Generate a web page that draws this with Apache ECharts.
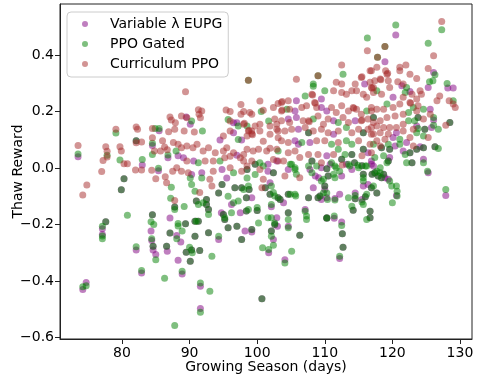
<!DOCTYPE html>
<html><head><meta charset="utf-8">
<script src="https://cdn.jsdelivr.net/npm/echarts@6/dist/echarts.min.js"></script>
<style>html,body{margin:0;padding:0;background:#fff}#c{width:479px;height:379px}</style>
</head><body><div id="c"></div>
<script>
// Tick labels
const xTicks = [80, 90, 100, 110, 120, 130];
const yTicks = [-0.6, -0.4, -0.2, 0, 0.2, 0.4];
const seriesNames = ['Variable λ EUPG', 'PPO Gated', 'Curriculum PPO'];

// [growing season (days), thaw reward]
const curriculumOnly = [
[73.5,0.08],[74.8,-0.06],[74.2,-0.095],[77.6,0.075],[77.8,0.059],[77.2,0.027],[77.8,0.039],[77,-0.012],[79.1,0.137],[79.7,0.075],[79.9,0.06],[80.3,0.015],[80.8,0.015],[82.1,0.145],[82.3,0.137],[82.1,0.089],[82.9,0.092],[82,-0.007],[82.9,-0.007],[84.5,0.14],[86.9,0.128],[84.5,0.107],[84.8,0.06],[85.7,0.06],[84.4,-0.008],[85,-0.038],[86.4,-0.031],[86.6,-0.052],[86,0.096],[86.3,0.074],[86.7,0.065],[87.1,0.18],[87.3,0.17],[87.9,0.16],[87.8,0.137],[87.6,0.09],[88.3,0.084],[88.1,0.001],[87.5,-0.011],[87.8,-0.115],
[89.4,0.27],[97.6,0.225],[100.4,0.237],[95.4,0.205],[96,0.2],[97.6,0.19],[98,0.2],[98.9,0.196],[99.2,0.19],[100.9,0.204],[102.4,0.214],[103.1,0.228],[91.3,0.206],[91.8,0.202],
[88.8,0.184],[89.6,0.178],[91.4,0.19],[91.6,0.178],[96,0.166],[98,0.155],[98.1,0.158],[98.7,0.131],[98.8,0.134],[99.2,0.131],[99.7,0.149],[100.4,0.155],[101.9,0.149],[102.9,0.155],[99.2,0.121],[99.3,0.118],
[89.2,0.131],[90.7,0.127],[95,0.113],[96,0.131],[98.5,0.113],[100.4,0.131],[100.9,0.095],[101.9,0.119],[102.9,0.137],[103.1,0.107],
[88.8,0.072],[89.6,0.078],[90.5,0.072],[91.1,0.084],[92,0.06],[92.8,0.072],[93.8,0.054],[95,0.06],[95.5,0.072],[96.5,0.054],[98,0.048],[98.5,0.066],[99.4,0.06],[100.2,0.066],[101.4,0.06],[101.9,0.07],[102.9,0.066],
[89.6,0.025],[92.3,0.025],[93.5,0.025],[95.2,0.036],[96,0.042],[97.5,0.036],[98,0.025],[98.5,0.007],[99.2,0.025],[102.4,0.03],[103.1,0.025],
[88.8,-0.011],[89.8,-0.017],[93.5,-0.011],[96,0.001],[97.7,-0.011],[100.4,-0.005],[93,-0.04],[100.9,-0.04],
[91.5,-0.087],[93.3,-0.064],[100.7,-0.07],[106.3,-0.034],[104.1,-0.028],[112.6,0.011],
[116.3,0.415],[112.5,0.364],[105.8,0.314],[115.4,0.32],[115.5,0.323],[116.9,0.344],[111.7,0.303],[112.5,0.297],[114.5,0.297],[116.7,0.303],[117.2,0.285],
[103.6,0.232],[103.7,0.235],[104.6,0.238],[108.1,0.261],[108.2,0.258],[108.5,0.232],[108.6,0.229],[111.3,0.273],[112.5,0.267],[113.2,0.261],[114,0.273],[114.7,0.273],[115.7,0.261],[116.2,0.25],[117.2,0.267],
[103.6,0.202],[103.7,0.205],[104.8,0.208],[106.6,0.214],[107.3,0.22],[108.8,0.214],[111,0.214],[111.7,0.196],[112.5,0.22],[113.5,0.202],[114.2,0.214],[114.3,0.211],[114.7,0.208],[115.4,0.19],[116.9,0.214],
[102.6,0.173],[103.6,0.167],[104.8,0.161],[106.8,0.167],[107.6,0.167],[107.7,0.164],[109,0.184],[109.8,0.155],[110.5,0.173],[112.7,0.179],[113.5,0.161],[115.4,0.167],[115.5,0.17],[116.4,0.173],[117.2,0.161],
[103.1,0.131],[104.1,0.131],[105.1,0.137],[107.1,0.143],[108.3,0.131],[109.5,0.137],[110.5,0.125],[112,0.131],[114,0.125],[115,0.137],[116.4,0.137],[116.9,0.119],
[103.6,0.096],[104.6,0.09],[108.8,0.096],[110,0.096],[112,0.09],[115,0.096],[116.7,0.084],
[104.6,0.054],[105.6,0.06],[106.3,0.037],[107.6,0.048],[109,0.048],[111.3,0.048],[115.5,0.043],[103.9,0.025],[109.5,0.019],
[127.3,0.518],[126.1,0.397],[121.1,0.356],[122,0.364],[121.1,0.344],[125.3,0.352],[117.7,0.356],[119,0.344],[119.2,0.332],[119.3,0.335],[120.8,0.305],[122.6,0.332],[123.6,0.317],[121.6,0.297],[124.1,0.273],[127,0.255],[126.6,0.238],[128.4,0.238],[129,0.226],[129.3,0.214],[127.9,0.151],
[116.7,0.344],[117.4,0.309],[118.2,0.315],[118.3,0.312],[118.4,0.261],[119.4,0.309],[119.6,0.285],[116.9,0.285],[117,0.282],[122.6,0.232],[122.7,0.229],[121.6,0.25],[122.9,0.261],[123.6,0.244],[124.3,0.261],[123.8,0.22],[121.1,0.226],[120.1,0.214],[118.7,0.208],[117.7,0.208],[116.9,0.202],[118.2,0.167],[119.2,0.179],[120.4,0.184],[121.6,0.19],[123.6,0.202],[125.6,0.19],[124.6,0.173],[121.6,0.155],[120.6,0.143],[119.6,0.143],[118.7,0.143],[117.7,0.149],[116.9,0.143],[117.2,0.12],[118.2,0.125],[119.4,0.12],[121.6,0.131],[123.1,0.137],[125.3,0.108],[122.6,0.108],[118.9,0.102],[117.7,0.096],[118.2,0.078],[123.1,0.078],[116.9,0.054]
];

const gatedOnly = [
[73.5,0.05],[74.2,-0.42],[74.7,-0.416],[77.1,-0.206],[77.1,-0.24],[77.1,-0.25],[77.8,0.045],[79.1,0.124],[79.7,0.028],[80.8,-0.167],[82.1,-0.278],[82.9,-0.362],[83,0.03],[84.9,0.14],[85.5,0.14],[84.5,0.088],[84.5,0.048],[85.4,-0.001],[84.3,-0.19],[84.7,-0.2],[84.4,-0.25],[85,-0.324],[86.3,-0.39],[86.8,0.046],[87.3,-0.068],[87.2,-0.107],[87.8,-0.147],[89.2,-0.136],[88.3,-0.196],[88.3,-0.205],[88.1,-0.25],[88.9,-0.223],[88.9,-0.365],[87.8,-0.557],[90,-0.28],[88,0.06],
[100.6,0.2],[90.3,0.166],[95.7,0.172],[97.2,0.149],[98.5,0.149],[101.7,0.166],[91.9,0.131],[97.2,0.101],[91.3,0.019],[94.5,0.025],[100.4,0.019],[100.9,0.007],[96.5,-0.017],[99.7,-0.023],[90.1,-0.035],[91.8,-0.035],[98.5,-0.035],
[90.3,-0.058],[90.8,-0.082],[102.1,-0.064],[91.3,-0.129],[92,-0.123],[92.8,-0.164],[95.7,-0.1],[96.5,-0.123],[97.2,-0.117],[98,-0.076],[98.7,-0.064],[100,-0.14],[102.1,-0.129],[102.4,-0.087],[102.6,-0.099],[104.9,-0.093],[105.6,-0.093],[105.7,-0.099],[107.1,-0.153],[107.3,-0.17],[95.2,-0.176],[96.2,-0.158],[98.7,-0.147],[91,-0.188],[94.3,-0.241],[100.2,-0.194],[101.6,-0.176],[102.1,-0.176],[102.6,-0.194],[102.1,-0.241],[102.4,-0.273],[101.7,-0.288],[100.8,-0.282],[104.6,-0.182],[104.6,-0.211],[105.1,-0.294],[107.3,-0.182],[90.4,-0.3],[93.3,-0.312],[104.1,-0.336],[91.6,-0.407],[93,-0.436],[91.6,-0.51],[104.9,0.013],[105.6,-0.005],[105.8,-0.022],[107.6,0.007],[108.1,-0.017],[109.5,-0.046],
[112.7,0.332],[108.3,0.297],[108.3,0.289],[107.1,0.255],[110,0.273],[104.4,0.208],[116.2,0.202],[108.3,0.173],[112,0.161],[113.2,0.143],[106.6,0.09],[111,0.084],[113.2,0.096],[114,0.084],[103.1,0.06],[112,0.066],[113,0.048],[105.1,0.013],[108.8,0.007],[113.5,0.013],[116,0.007],[105.6,0.001],[111.7,0.001],[116.3,0.46],
[120.5,0.506],[127.3,0.489],[125.3,0.441],[126.3,0.33],[122.1,0.285],[125.5,0.305],[126,0.309],[128.1,0.299],[129,0.238],[117.7,0.273],[121.9,0.267],[123.1,0.214],[119.2,0.226],[122.4,0.196],[124.6,0.208],[126.1,0.179],[123.3,0.167],[122.4,0.167],[123.8,0.14],[126.1,0.151],[126.8,0.137],[124.6,0.113],[123.6,0.125],[121.1,0.102],[117.2,0.084],[119.4,0.084],[121.1,0.084],[126.8,0.069],[117.4,0.037],[118.7,0.043],[121.9,0.048],[124.6,0.019],[118.2,0.001],
[111,0.019],[111.5,0.007],[109.8,-0.04],[111.3,-0.022],[111.5,-0.034],[112.2,-0.011],[113.7,0.007],[114.9,0.01],[115,0.001],[115.7,-0.034],[115.7,-0.046],[116.2,0.007],[117.7,-0.011],[118.2,-0.017],[119.2,0.019],[119.6,-0.046],[119.9,-0.064],[120.7,-0.082],[120.7,-0.099],[120.6,-0.064],[122.1,0.019],[125.2,-0.011],[117.2,-0.064],[116.2,-0.093],[109.8,-0.088],[110.3,-0.088],[110.4,-0.111],[111.5,-0.113],[113.5,-0.105],[114.5,-0.097],[114,-0.135],[115.5,-0.12],[115.7,-0.129],[116.2,-0.182],[120,-0.123],[127.9,-0.076],[111.4,-0.17],[112.5,-0.203],[112.2,-0.312]
];

const eupgOnly = [
[73.5,0.04],[74.2,-0.43],[74.7,-0.405],[77.1,-0.215],[77.1,-0.235],[82.1,-0.29],[82.9,-0.371],[83,0.011],[85.5,0.132],[84.5,0.08],[85.4,-0.01],[84.3,-0.223],[84.4,-0.256],[84.6,-0.29],[85,-0.306],[86.7,-0.294],[86.8,0.036],[87.1,-0.177],[88.1,-0.239],[88.7,-0.262],[88.3,-0.326],[88.9,-0.375],[88.3,0.043],[89.5,0.18],
[90.1,0.155],[96.5,0.16],[97,0.16],[94.5,0.099],[96.5,0.125],[97.7,0.099],[97,0.045],[89.1,0.036],[90.6,0.025],[101.6,0.013],[90.3,-0.023],[91.8,-0.017],[94.8,-0.005],[101.6,-0.011],[95.5,-0.035],
[101.9,-0.052],[108.3,-0.07],[96.2,-0.129],[99.2,-0.105],[102.1,-0.137],[103.9,-0.123],[107.1,-0.147],[110.3,-0.105],[94.7,-0.158],[97.5,-0.158],[94.3,-0.253],[98.2,-0.223],[99.2,-0.226],[103,-0.206],[102.9,-0.176],[102.4,-0.253],[101.7,-0.3],[104.6,-0.206],[104.1,-0.324],[91.6,-0.418],[91.6,-0.497],[104.6,-0.005],[108.6,-0.028],[109.1,-0.034],
[115.9,0.297],[105.8,0.238],[109.5,0.244],[105.6,0.202],[109.5,0.214],[110.3,0.202],[104.6,0.173],[105.8,0.179],[111.3,0.167],[114.5,0.167],[106.1,0.137],[111.3,0.119],[105.6,0.096],[106.1,0.084],[107.8,0.09],[110.3,0.043],[116.4,0.054],[102.9,0.025],[110.8,0.013],[116.9,0.025],[107.8,-0.005],[114,-0.005],
[120.5,0.47],[118.9,0.376],[126.1,0.338],[122.6,0.271],[125.3,0.285],[128.2,0.283],[129,0.283],[120.1,0.25],[121.4,0.291],[125.6,0.208],[126.1,0.17],[120.6,0.125],[123.6,0.149],[125.8,0.143],[120.1,0.108],[120.4,0.078],[122.1,0.09],[124.1,0.075],[121.6,0.06],[119.6,0.037],[124.6,0.031],[116.9,0.013],
[109.5,0.001],[112.5,-0.028],[113.2,0.013],[117.2,0.007],[118.9,-0.034],[119.4,-0.04],[125.3,-0.017],[116.4,-0.058],[115.7,-0.064],[110,-0.076],[109.5,-0.111],[111.5,-0.108],[112.2,-0.093],[114.5,-0.088],[115.5,-0.111],[120.6,-0.097],[127.9,-0.097],[111.4,-0.178],[112.5,-0.191],[112.2,-0.32]
];

// seasons where Variable λ EUPG and PPO Gated reached the same reward
const eupgGatedSame = [
[80.3,-0.038],[79.9,-0.077],[82.1,0.096],[84.5,-0.165],[84.6,-0.277],[86.6,-0.277],[87.8,-0.138],[87.1,-0.23],[89.4,-0.197],[89.5,-0.298],[90.3,-0.29],[90.1,-0.33],[77.6,-0.19],
[99.7,0.013],[98.5,-0.005],[102.4,-0.017],[101.2,-0.07],[110,-0.064],[91,-0.117],[92.5,-0.111],[92.5,-0.129],[92.8,-0.147],[94.3,-0.088],[94.8,-0.058],[96.7,-0.07],[97.7,-0.07],[98.4,-0.105],[98.8,-0.076],[100,-0.15],[101.9,-0.093],[103.1,-0.105],[103.4,-0.111],[104.6,-0.093],[107.6,-0.105],[109,-0.105],[110.3,-0.176],[95,-0.164],[95.2,-0.182],[98.4,-0.152],[90.8,-0.188],[91.3,-0.188],[90.8,-0.241],[92.8,-0.229],[95.7,-0.211],[97,-0.206],[97.7,-0.253],[99.2,-0.217],[102.1,-0.223],[102.6,-0.2],[104.6,-0.158],[106.3,-0.238],[91.5,-0.292],[100.7,-0.462],
[107.6,0.125],[114,0.048],[108.1,0.025],[112.5,0.031],[114.4,0.019],[110.3,-0.003],[115.7,0.066],[115.7,0.125],
[124.6,0.072],[126.3,0.075],[118.4,0.072],[119.6,0.066],[122.6,0.054],[123.6,0.066],[122.9,0.019],[119.4,0.025],[128.5,0.161],[117.2,0.179],[123.8,0.179],[124.8,0.137],
[110.5,-0.028],[115.5,0.008],[115.7,-0.022],[117,-0.022],[117.4,-0.017],[117.9,-0.028],[118.4,-0.034],[118.7,-0.022],[116.9,-0.07],[117.7,-0.088],[109.3,-0.099],[114.5,-0.109],[114.2,-0.149],[116,-0.102],[116.7,-0.153],[116.7,-0.176],[110.3,-0.178],[112.6,-0.232],[112.7,-0.28]
];

// seasons where PPO Gated and Curriculum PPO reached the same reward
const gatedCurriculumSame = [[98.7,0.31],[109,0.326],[118.9,0.43],[117.8,0.392]];

const eupgData = eupgOnly.concat(eupgGatedSame);
const gatedData = gatedOnly.concat(eupgGatedSame, gatedCurriculumSame);
const curriculumData = curriculumOnly.concat(gatedCurriculumSame);

const font = 'DejaVu Sans';
const colors = ['#800080', '#008000', '#a52a2a'];
function mk(name, color, data) {
  return {
    type: 'scatter', name: name, data: data, symbol: 'circle', symbolSize: 7,
    itemStyle: { color: color, opacity: 0.5, borderWidth: 0 },
    emphasis: { disabled: true }, animation: false
  };
}
const fmtY = v => (v < 0 ? '\u2212' : '') + Math.abs(v).toFixed(1);

const chart = echarts.init(document.getElementById('c'), null, { renderer: 'canvas' });
chart.setOption({
  animation: false,
  backgroundColor: '#ffffff',
  grid: { left: 60, right: 7, top: 4, bottom: 40, containLabel: false, outerBoundsMode: 'none',
          show: true, borderColor: '#222', borderWidth: 1, backgroundColor: 'transparent' },
  xAxis: {
    type: 'value', min: 70.83, max: 131.78,
    name: 'Growing Season (days)', nameLocation: 'middle', nameGap: 21, nameMoveOverlap: false,
    nameTextStyle: { fontSize: 14, color: '#000', fontFamily: font },
    axisLine: { show: true, onZero: false, lineStyle: { color: '#222', width: 1 } },
    axisTick: { show: true, length: 5, lineStyle: { color: '#222' }, customValues: xTicks },
    axisLabel: { customValues: xTicks, fontSize: 14, color: '#000', fontFamily: font, margin: 7, formatter: v => String(Math.round(v)) },
    splitLine: { show: false }
  },
  yAxis: {
    type: 'value', min: -0.6046, max: 0.58,
    name: 'Thaw Reward', nameLocation: 'middle', nameGap: 35, nameRotate: 90, nameMoveOverlap: false,
    nameTextStyle: { fontSize: 14, color: '#000', fontFamily: font },
    axisLine: { show: true, onZero: false, lineStyle: { color: '#222', width: 1 } },
    axisTick: { show: true, length: 5, lineStyle: { color: '#222' }, customValues: yTicks },
    axisLabel: { customValues: yTicks, fontSize: 14, color: '#000', fontFamily: font, margin: 6, formatter: fmtY },
    splitLine: { show: false }
  },
  legend: {
    orient: 'vertical', left: 67, top: 12, padding: [4, 6, 5, 15], itemGap: 4,
    itemWidth: 8, itemHeight: 6, icon: 'circle',
    itemStyle: { borderWidth: 0 },
    backgroundColor: 'rgba(255,255,255,0.8)', borderColor: '#cccccc', borderWidth: 1, borderRadius: 4,
    textStyle: { fontSize: 14, color: '#000', fontFamily: font, lineHeight: 16, padding: [0, 0, 0, 16] },
    data: seriesNames
  },
  series: [
    mk(seriesNames[0], colors[0], eupgData),
    mk(seriesNames[1], colors[1], gatedData),
    mk(seriesNames[2], colors[2], curriculumData)
  ]
});
</script></body></html>
